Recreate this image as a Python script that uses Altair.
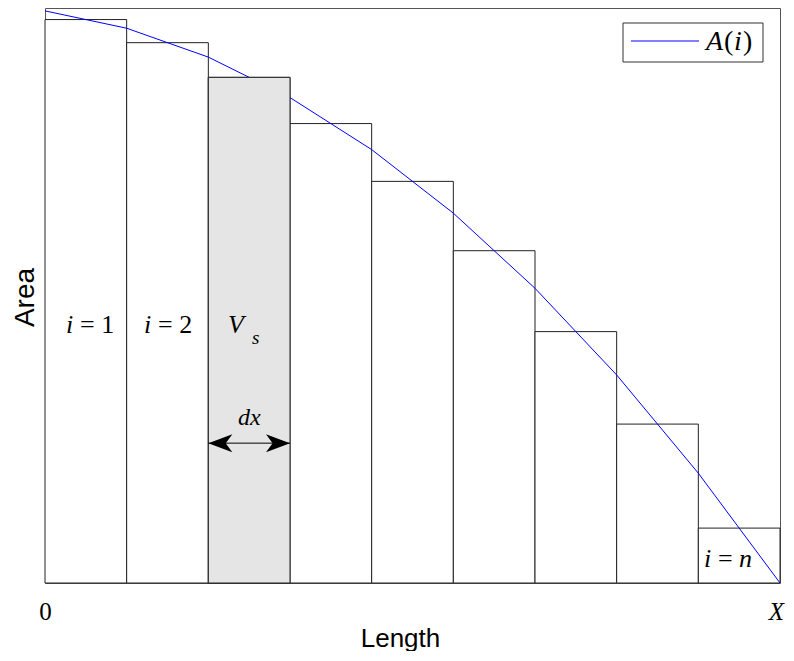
import altair as alt
import pandas as pd

# ---- data ----
bar_index = [1, 2, 3, 4, 5, 6, 7, 8, 9]
bar_height = [97.5, 93.5, 87.5, 79.5, 69.5, 57.5, 43.5, 27.5, 9.5]
curve_x = [0, 1, 2, 3, 4, 5, 6, 7, 8, 9]
curve_area = [99, 96, 91, 84, 75, 64, 51, 36, 19, 0]
tick_values = [0, 9]
tick_labels = ["0", "X"]
shaded_bar = 3

# annotation pieces (text, x in data units, y in data units, font size)
italic_text = ["i", "i", "V", "s", "dx", "i", "n"]
italic_x = [0.257, 1.212, 2.241, 2.535, 2.363, 8.069, 8.498]
italic_y = [43.3, 43.3, 43.3, 41.4, 27.3, 2.8, 2.8]
italic_size = [26, 26, 26, 19, 24, 26, 26]
upright_text = ["= 1", "= 2", "="]
upright_x = [0.429, 1.384, 8.241]
upright_y = [43.3, 43.3, 2.8]
upright_size = [26, 26, 26]
arrow_y = 24.2

# legend pieces (pixel coordinates inside plot area)
leg_text = ["A", "(", "i", ")"]
leg_italic = [True, False, True, False]
leg_px = [661, 679, 689, 698]
leg_py = [42, 42, 42, 42]
leg_line_px = [586, 654]
leg_line_py = [33, 33]

W, H = 735, 575
xs = alt.Scale(domain=[0, 9], nice=False, zero=False)
ys = alt.Scale(domain=[0, 99.5], nice=False, zero=False)

bars = pd.DataFrame({"i": bar_index,
                     "x0": [i - 1 for i in bar_index],
                     "x1": bar_index,
                     "h": bar_height})
curve = pd.DataFrame({"x": curve_x, "a": curve_area})
ital = pd.DataFrame({"t": italic_text, "x": italic_x, "y": italic_y, "s": italic_size})
upr = pd.DataFrame({"t": upright_text, "x": upright_x, "y": upright_y, "s": upright_size})
arrow = pd.DataFrame({"x0": [shaded_bar - 1], "x1": [shaded_bar], "y": [arrow_y]})
heads = pd.DataFrame({"x": [shaded_bar - 1, shaded_bar], "y": [arrow_y, arrow_y],
                      "side": ["L", "R"]})
leg = pd.DataFrame({"t": leg_text, "it": leg_italic, "px": leg_px, "py": leg_py})
legl = pd.DataFrame({"lx": leg_line_px, "ly": leg_line_py})
one = pd.DataFrame({"a": [0]})

label_map = "{" + ",".join(f"'{v}':'{l}'" for v, l in zip(tick_values, tick_labels)) + "}"

x_axis = alt.Axis(values=tick_values, labelExpr=f"{label_map}[datum.value]",
                  ticks=False, domain=False, grid=False, labelFlush=False,
                  labelFont="Liberation Serif", labelFontSize=25, labelPadding=16,
                  labelColor="black",
                  labelFontStyle={"condition": {"test": "datum.value == 9", "value": "italic"},
                                  "value": "normal"},
                  labelOffset={"condition": {"test": "datum.value == 9", "value": -4},
                               "value": 0},
                  title="Length", titleFont="Liberation Sans", titleFontSize=26,
                  titleFontWeight="normal", titleColor="black",
                  titleX=355, titleY=63, titleBaseline="alphabetic", titleAlign="center")
y_axis = alt.Axis(labels=False, ticks=False, domain=False, grid=False,
                  title="Area", titleFont="Liberation Sans", titleFontSize=28,
                  titleFontWeight="normal", titleColor="black",
                  titleX=-12, titleY=289, titleAngle=270,
                  titleBaseline="alphabetic", titleAlign="center")

base_bars = alt.Chart(bars).mark_rect(fill="white", stroke="#222", strokeWidth=1).encode(
    x=alt.X("x0:Q", scale=xs, axis=x_axis),
    x2="x1:Q",
    y=alt.Y("h:Q", scale=ys, axis=y_axis),
    y2=alt.datum(0),
)
line = alt.Chart(curve).mark_line(color="#0000ff", strokeWidth=1).encode(
    x=alt.X("x:Q", scale=xs), y=alt.Y("a:Q", scale=ys))
gray = alt.Chart(bars).transform_filter(f"datum.i == {shaded_bar}").mark_rect(
    fill="#e5e5e5", stroke="#222", strokeWidth=1).encode(
    x=alt.X("x0:Q", scale=xs), x2="x1:Q", y=alt.Y("h:Q", scale=ys), y2=alt.datum(0))

arrow_line = alt.Chart(arrow).mark_rule(color="black", strokeWidth=1).encode(
    x=alt.X("x0:Q", scale=xs), x2="x1:Q", y=alt.Y("y:Q", scale=ys))
head_r = alt.Chart(heads).transform_filter("datum.side == 'R'").mark_point(
    shape="M0,0 L-2,-0.75 L-1.45,0 L-2,0.75 Z", size=576, filled=True,
    color="black", opacity=1, strokeWidth=0).encode(
    x=alt.X("x:Q", scale=xs), y=alt.Y("y:Q", scale=ys))
head_l = alt.Chart(heads).transform_filter("datum.side == 'L'").mark_point(
    shape="M0,0 L2,-0.75 L1.45,0 L2,0.75 Z", size=576, filled=True,
    color="black", opacity=1, strokeWidth=0).encode(
    x=alt.X("x:Q", scale=xs), y=alt.Y("y:Q", scale=ys))

t_ital = alt.Chart(ital).mark_text(align="left", baseline="alphabetic",
                                   font="Liberation Serif", fontStyle="italic",
                                   color="black").encode(
    x=alt.X("x:Q", scale=xs), y=alt.Y("y:Q", scale=ys), text="t:N",
    size=alt.Size("s:Q", scale=None))
t_up = alt.Chart(upr).mark_text(align="left", baseline="alphabetic",
                                font="Liberation Serif", color="black").encode(
    x=alt.X("x:Q", scale=xs), y=alt.Y("y:Q", scale=ys), text="t:N",
    size=alt.Size("s:Q", scale=None))

leg_box = alt.Chart(one).mark_rect(fill="white", stroke="#333", strokeWidth=1).encode(
    x=alt.value(578), x2=alt.value(718), y=alt.value(15), y2=alt.value(54))
leg_line = alt.Chart(legl).mark_line(color="#0000ff", strokeWidth=1.2).encode(
    x=alt.X("lx:Q", scale=None), y=alt.Y("ly:Q", scale=None))
leg_it = alt.Chart(leg).transform_filter("datum.it").mark_text(
    align="left", baseline="alphabetic", font="Liberation Serif", fontStyle="italic",
    fontSize=28, color="black").encode(
    x=alt.X("px:Q", scale=None), y=alt.Y("py:Q", scale=None), text="t:N")
leg_up = alt.Chart(leg).transform_filter("!datum.it").mark_text(
    align="left", baseline="alphabetic", font="Liberation Serif",
    fontSize=28, color="black").encode(
    x=alt.X("px:Q", scale=None), y=alt.Y("py:Q", scale=None), text="t:N")

chart = alt.layer(base_bars, line, gray, arrow_line, head_r, head_l, t_ital, t_up,
                  leg_box, leg_line, leg_it, leg_up).properties(
    width=W, height=H,
    autosize=alt.AutoSizeParams(type="none"),
    padding={"left": 37, "top": 0, "right": 6, "bottom": 68},
    background="white",
).configure_view(stroke="#555", strokeWidth=1)

chart.save("out.html", embed_options={"renderer": "svg", "actions": False})
